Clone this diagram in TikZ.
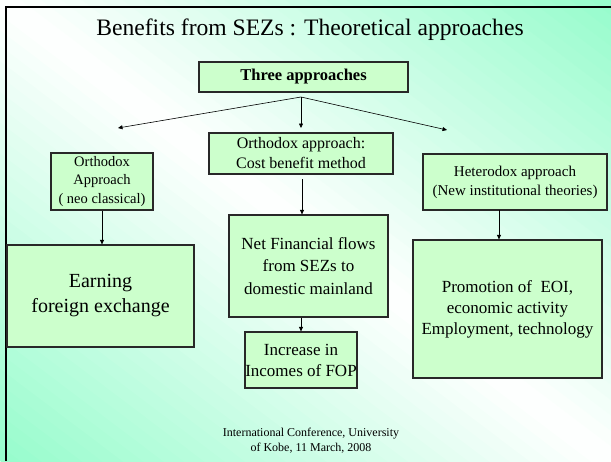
\documentclass[tikz,border=0pt]{standalone}
\usepackage{fontspec}
\setmainfont{Liberation Serif}
\usetikzlibrary{arrows.meta}
\definecolor{mint}{RGB}{150,252,204}
\definecolor{boxfill}{RGB}{204,255,204}
\definecolor{boxline}{RGB}{40,40,40}
\tikzset{
  box/.style={draw=boxline, line width=1.2pt, fill=boxfill, inner sep=0pt,
    align=center, text=black},
  arr/.style={draw=black, line width=0.6pt,
    -{Triangle[length=4.5pt,width=4pt]}},
}
\newcommand{\fs}[2]{\fontsize{#1}{#2}\selectfont}
\begin{document}
\begin{tikzpicture}[x=1pt,y=-1pt]
  \useasboundingbox (0,0) rectangle (611,461);
  % slide background: mint at the top-right and bottom-left corners,
  % white along the main diagonal, built from thin diagonal strips
  \begin{scope}
    \clip (0,0) rectangle (611,461);
    \foreach \i in {0,...,59}{
      \pgfmathsetmacro\ta{-1 + \i/30}
      \pgfmathsetmacro\tb{-1 + (\i+1.4)/30}
      \pgfmathsetmacro\tm{-1 + (\i+0.5)/30}
      \pgfmathsetmacro\pc{abs(\tm)*100}
      \pgfmathsetmacro\xa{305.5 + 305.5*\ta - 336}
      \pgfmathsetmacro\ya{230.5 - 230.5*\ta - 254}
      \pgfmathsetmacro\xb{305.5 + 305.5*\ta + 336}
      \pgfmathsetmacro\yb{230.5 - 230.5*\ta + 254}
      \pgfmathsetmacro\xc{305.5 + 305.5*\tb + 336}
      \pgfmathsetmacro\yc{230.5 - 230.5*\tb + 254}
      \pgfmathsetmacro\xd{305.5 + 305.5*\tb - 336}
      \pgfmathsetmacro\yd{230.5 - 230.5*\tb - 254}
      \fill[mint!\pc!white] (\xa,\ya) -- (\xb,\yb) -- (\xc,\yc) -- (\xd,\yd) -- cycle;
    }
  \end{scope}
  % slide frame
  \draw[line width=2.4pt, black] (6,461) -- (6,7) -- (611,7);

  % title
  \node (title) at (310,30) [font=\fs{23.6}{28}] {Benefits from SEZs : Theoretical approaches};

  % boxes
  \node[box, minimum width=209pt, minimum height=30pt, font=\fs{16.5}{20}\bfseries]
    (three) at (303.5,77) {Three approaches};
  \node[box, minimum width=184pt, minimum height=41pt, font=\fs{16}{20}]
    (mid) at (301,153.5) {Orthodox approach:\\Cost benefit method};
  \node[box, minimum width=102pt, minimum height=57pt, font=\fs{14.5}{18.5}]
    (lbox) at (102,181.5) {Orthodox\\Approach\\( neo classical)};
  \node[box, minimum width=184pt, minimum height=56pt, font=\fs{15}{19}]
    (het) at (515,182) {Heterodox approach\\(New institutional theories)};
  \node[box, minimum width=187pt, minimum height=102pt, font=\fs{20}{25}]
    (earn) at (100.5,296) {Earning\\foreign exchange};
  \node[box, minimum width=159pt, minimum height=102pt, font=\fs{17}{22.5}]
    (net) at (308.5,266) {Net Financial flows\\from SEZs to\\domestic mainland};
  \node[box, minimum width=112pt, minimum height=56pt, font=\fs{17}{21}]
    (inc) at (301,360) {Increase in\\Incomes of FOP};
  \node[box, minimum width=189pt, minimum height=138pt, font=\fs{17}{21}]
    (promo) at (507.5,309) {Promotion of\ \ EOI,\\economic activity\\Employment, technology};

  % footer
  \node[align=center, font=\fs{12}{15}] (foot) at (311,441)
    {International Conference, University\\of Kobe, 11 March, 2008};

  % branching arrows below the top box
  \coordinate (j) at (301,97);
  \coordinate (tl) at (118,128);
  \coordinate (tm) at (301,128);
  \coordinate (tr) at (447,130);
  \draw[arr] (j) -- (tl);
  \draw[arr] (j) -- (tm);
  \draw[arr] (j) -- (tr);

  % column arrows
  \draw[arr] (lbox.south) -- (lbox.south |- earn.north);
  \coordinate (ms) at (302,179);
  \draw[arr] (ms) -- (ms |- net.north);
  \draw[arr] (net.south -| inc.north) -- (inc.north);
  \coordinate (rs) at (499,210);
  \draw[arr] (rs) -- (rs |- promo.north);
\end{tikzpicture}
\end{document}
